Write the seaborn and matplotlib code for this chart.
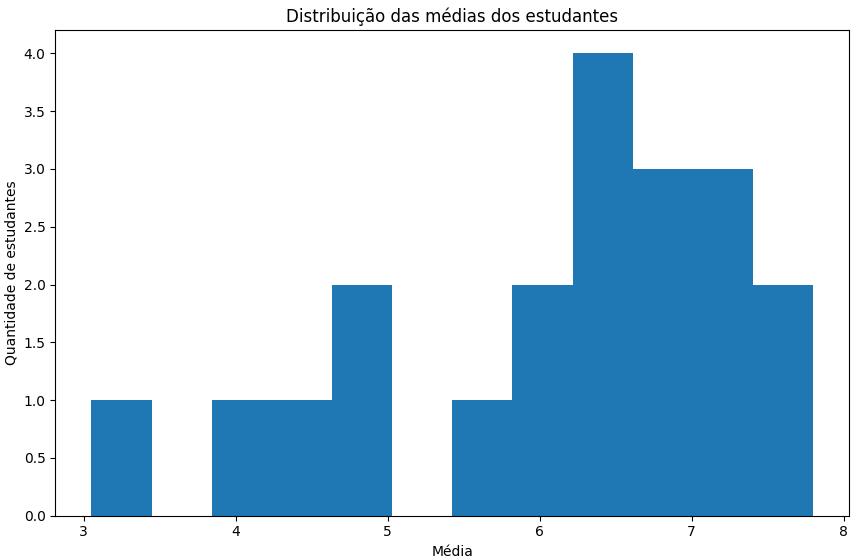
import seaborn as sns
import matplotlib.pyplot as plt
import pandas as pd

medias = [3.05, 4.0, 4.4, 4.8, 4.9, 5.6, 5.9, 6.1, 6.3, 6.4,
          6.5, 6.6, 6.7, 6.8, 6.9, 7.1, 7.2, 7.3, 7.5, 7.8]
n_bins = 12

df = pd.DataFrame({'media': medias})

fig, ax = plt.subplots(figsize=(8.64, 5.6), dpi=100)
sns.histplot(data=df, x='media', bins=n_bins, color='#1f77b4',
             alpha=1, linewidth=0, ax=ax)

ax.set_title("Distribuição das médias dos estudantes")
ax.set_xlabel("Média")
ax.set_ylabel("Quantidade de estudantes")
ax.yaxis.set_major_formatter(plt.FormatStrFormatter('%.1f'))

plt.subplots_adjust(left=0.064, right=0.983, top=0.946, bottom=0.079)
plt.savefig("out.png")
